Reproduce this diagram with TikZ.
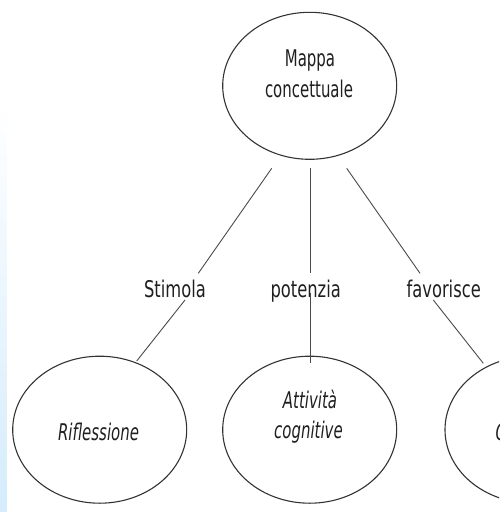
\documentclass[tikz,border=0pt]{standalone}
\usepackage{fontspec}
\setmainfont{DejaVu Sans}
\usetikzlibrary{shapes.geometric}
\definecolor{inkc}{HTML}{333333}
\definecolor{linec}{HTML}{4A4A4A}
\definecolor{stripc}{HTML}{D4ECFB}
\newcommand\nodetxt[1]{\scalebox{0.65}[1]{#1}}
\newcommand\labtxt[1]{\scalebox{0.71}[1]{#1}}
\begin{document}
\begin{tikzpicture}[x=1pt,y=-1pt,
  concept/.style={ellipse,draw=inkc,line width=1.1pt,inner sep=0pt,
    minimum width=174pt,minimum height=147pt},
  txt/.style={anchor=base,inner sep=0pt,text=black!88,font=\fontsize{23}{31}\selectfont},
  link/.style={draw=linec,line width=0.9pt}]
\useasboundingbox (0,0) rectangle (499,515);
\clip (0,0) rectangle (499,515);
\shade[top color=white,bottom color=stripc] (0,100) rectangle (6.5,511);
% concept ellipses
\node[concept] (map) at (309.7,85.8) {};
\node[concept] (rif) at (99.7,429.7) {};
\node[concept] (att) at (309.7,429.7) {};
\node[concept] (cre) at (532,429.7) {};
% texts
\node[txt] (mapA) at (310,66) {\nodetxt{Mappa}};
\node[txt] (mapB) at (309,97) {\nodetxt{concettuale}};
\node[txt] (rifA) at (98.5,440) {\nodetxt{\itshape Riflessione}};
\node[txt] (attA) at (310,408) {\nodetxt{\itshape Attività}};
\node[txt] (attB) at (308.5,438) {\nodetxt{\itshape cognitive}};
\node[txt] (creA) at (532,440) {\nodetxt{\itshape Creatività}};
% link labels
\node[txt] (stim) at (175,297) {\labtxt{Stimola}};
\node[txt] (pot) at (305.7,297) {\labtxt{potenzia}};
\node[txt] (fav) at (443.7,297) {\labtxt{favorisce}};
% connector end points
\coordinate (m1) at (271.7,168.3);
\coordinate (m2) at (310,168.3);
\coordinate (m3) at (346.7,168.3);
\coordinate (s1) at (198.3,273.3);
\coordinate (s2) at (185,300);
\coordinate (p1) at (310,273.3);
\coordinate (p2) at (310,293);
\coordinate (f1) at (420,273.3);
\coordinate (f2) at (433.3,300);
\coordinate (r1) at (136.7,361);
\coordinate (a1) at (310,362.5);
\coordinate (c1) at (483.3,363.3);
% connectors
\draw[link] (m1) -- (s1);
\draw[link] (s2) -- (r1);
\draw[link] (m2) -- (p1);
\draw[link] (p2) -- (a1);
\draw[link] (m3) -- (f1);
\draw[link] (f2) -- (c1);
\end{tikzpicture}
\end{document}
